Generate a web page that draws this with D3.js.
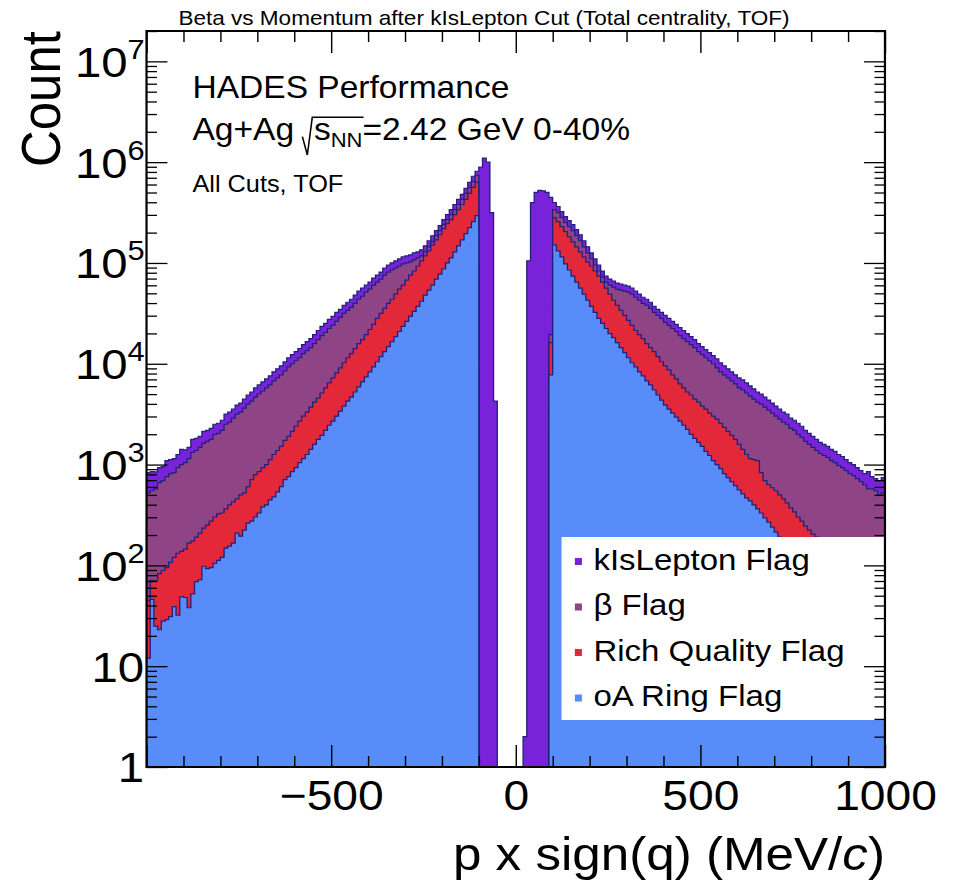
<!DOCTYPE html>
<html>
<head>
<meta charset="utf-8">
<script src="https://cdn.jsdelivr.net/npm/d3@7"></script>
<style>
  html, body { margin: 0; padding: 0; background: #fff; }
  svg { display: block; }
  text { font-family: "Liberation Sans", Arial, Helvetica, sans-serif; fill: #000; }
</style>
</head>
<body>
<svg id="chart" width="957" height="882"></svg>
<script>
// Histogram binning: 200 bins of 10 MeV/c from -1000 to 1000
const binLow = -1000;
const binWidth = 10;

// Counts per bin, left to right
const kIsLepton = [
  832, 851, 845, 933, 955, 1096, 1122, 1148, 1259, 1413,
  1400, 1479, 1778, 1820, 1905, 2138, 2188, 2291, 2512, 2570,
  2754, 3162, 3311, 3548, 3890, 4074, 4467, 4898, 5248, 5754,
  6166, 6607, 7079, 7586, 8318, 8913, 9550, 10470, 11480, 12300,
  13180, 14130, 15490, 16600, 17780, 19500, 21380, 23440, 25120, 27540,
  29510, 32360, 34670, 38020, 40740, 43650, 47860, 52480, 56230, 60260,
  64570, 70790, 75860, 81280, 89130, 95500, 100000, 104700, 109600, 114800,
  117500, 120200, 125900, 128800, 134900, 147900, 166000, 186200, 208900, 234400,
  269200, 302000, 338800, 380200, 426600, 478600, 549500, 631000, 724400, 812800,
  891300, 1096000, 1000000, 316200, 4266, 0, 0, 0, 0, 0,
  0, 0, 2, 104700, 398100, 501200, 524800, 520000, 501200, 446700,
  398100, 363100, 323600, 288400, 263000, 239900, 213800, 190500, 166000, 144500,
  125900, 109600, 95500, 83180, 74130, 69180, 66070, 63100, 61660, 60260,
  58880, 56230, 52480, 48980, 45710, 43650, 40740, 37150, 34670, 32360,
  30200, 28180, 26300, 24550, 22910, 21380, 19950, 18620, 17380, 15850,
  14790, 13800, 12880, 12020, 11220, 10230, 9550, 8913, 8318, 7762,
  7244, 6918, 6457, 6026, 5623, 5248, 5012, 4677, 4365, 4074,
  3802, 3548, 3311, 3162, 2884, 2754, 2570, 2399, 2188, 2042,
  1905, 1778, 1660, 1585, 1514, 1413, 1349, 1259, 1202, 1122,
  1047, 1000, 933, 871, 813, 851, 759, 724, 692, 741
];

const betaFlag = [
  525, 550, 575, 661, 692, 759, 813, 832, 933, 1000,
  1047, 1148, 1318, 1380, 1479, 1622, 1698, 1778, 1995, 2042,
  2188, 2512, 2630, 2884, 3162, 3311, 3631, 3981, 4266, 4677,
  5012, 5370, 5754, 6166, 6761, 7244, 7762, 8511, 9333, 10000,
  10720, 11480, 12590, 13490, 14450, 15850, 17380, 19050, 20420, 22390,
  23990, 26300, 28840, 31620, 33880, 36310, 39810, 43650, 46770, 51290,
  54950, 60260, 64570, 69180, 75860, 81280, 85110, 89130, 93330, 97720,
  100000, 102300, 107200, 112200, 117500, 128800, 144500, 162200, 186200, 208900,
  239900, 269200, 302000, 338800, 380200, 426600, 489800, 562300, 645700, 741300,
  0, 0, 0, 0, 0, 0, 0, 0, 0, 0,
  0, 0, 0, 0, 0, 0, 0, 0, 0, 19500,
  338800, 316200, 281800, 251200, 229100, 208900, 186200, 166000, 144500, 125900,
  109600, 95500, 83180, 72440, 64570, 60260, 57540, 54950, 53700, 52480,
  51290, 48980, 45710, 42660, 39810, 38020, 35480, 32360, 30200, 28180,
  25700, 23990, 22390, 20890, 19050, 17780, 16600, 15490, 14450, 13180,
  12300, 11480, 10720, 10000, 9120, 8318, 7762, 7244, 6761, 6310,
  5754, 5495, 5129, 4786, 4467, 4169, 3981, 3715, 3467, 3236,
  3020, 2818, 2630, 2512, 2291, 2188, 1995, 1862, 1698, 1585,
  1479, 1380, 1288, 1230, 1175, 1096, 1047, 977, 933, 871,
  813, 776, 724, 676, 631, 575, 575, 550, 501, 525
];

const richQuality = [
  45, 71, 70, 83, 89, 95, 107, 120, 132, 138,
  145, 166, 174, 191, 209, 234, 251, 275, 302, 324,
  331, 363, 398, 427, 457, 501, 525, 603, 708, 794,
  851, 933, 1000, 1122, 1259, 1380, 1514, 1738, 1905, 2138,
  2399, 2692, 3020, 3311, 3715, 4169, 4571, 5129, 5754, 6457,
  7244, 8128, 9120, 10230, 11480, 12590, 14130, 15850, 17380, 19500,
  21880, 24550, 28180, 31620, 35480, 39810, 43650, 48980, 54950, 60260,
  67610, 75860, 83180, 93330, 104700, 117500, 131800, 151400, 169800, 190500,
  218800, 245500, 269200, 302000, 338800, 380200, 426600, 489800, 562300, 631000,
  0, 0, 0, 0, 0, 0, 0, 0, 0, 0,
  0, 0, 0, 0, 0, 0, 0, 0, 0, 16220,
  281800, 257000, 229100, 204200, 182000, 162200, 144500, 128800, 114800, 102300,
  93330, 83180, 74130, 64570, 56230, 48980, 42660, 38020, 33880, 30200,
  26920, 23990, 21380, 19500, 17780, 15850, 14450, 13180, 11750, 10470,
  9550, 8710, 7762, 7079, 6310, 5754, 5248, 4898, 4467, 4169,
  3802, 3548, 3236, 3020, 2818, 2570, 2344, 2138, 1950, 1778,
  1585, 1413, 1259, 1148, 1122, 1096, 832, 692, 631, 589,
  550, 501, 457, 417, 372, 339, 302, 275, 245, 224,
  204, 191, 166, 148, 132, 120, 107, 95, 87, 78,
  71, 63, 58, 51, 47, 42, 38, 34, 31, 28
];

const oaRing = [
  12, 46, 25, 23, 28, 29, 31, 39, 32, 49,
  48, 38, 52, 69, 72, 98, 93, 95, 105, 112,
  120, 148, 155, 166, 209, 195, 224, 263, 275, 302,
  331, 380, 398, 447, 479, 537, 603, 708, 759, 851,
  933, 1047, 1148, 1259, 1413, 1585, 1778, 1950, 2188, 2455,
  2692, 3020, 3388, 3802, 4266, 4677, 5248, 5888, 6607, 7413,
  8318, 9333, 10470, 11750, 13180, 14790, 16600, 18620, 20890, 23440,
  26300, 29510, 33110, 37150, 41690, 47860, 53700, 60260, 69180, 77620,
  87100, 100000, 112200, 128800, 147900, 169800, 195000, 223900, 257000, 295100,
  0, 0, 0, 0, 0, 0, 0, 0, 0, 0,
  0, 0, 0, 0, 0, 0, 0, 0, 0, 7762,
  151400, 131800, 114800, 97720, 85110, 74130, 64570, 56230, 48980, 42660,
  37150, 32360, 28180, 25120, 22390, 19950, 18200, 16220, 14450, 12880,
  11480, 10230, 9333, 8318, 7586, 6761, 6166, 5495, 4898, 4365,
  3890, 3548, 3236, 2951, 2692, 2455, 2239, 1995, 1820, 1660,
  1514, 1349, 1230, 1096, 1000, 912, 813, 741, 676, 617,
  562, 513, 468, 437, 398, 363, 331, 295, 269, 240,
  214, 191, 174, 155, 141, 126, 115, 102, 93, 83,
  76, 68, 62, 55, 50, 45, 41, 36, 33, 30,
  27, 24, 22, 19, 18, 16, 14, 13, 12, 10
];

const seriesNames = ["kIsLepton Flag", "\u03B2 Flag", "Rich Quality Flag", "oA Ring Flag"];
const seriesColors = ["#7822da", "#8f4486", "#e3283a", "#588cf8"];
const seriesValues = [kIsLepton, betaFlag, richQuality, oaRing];

const xMajorTicks = [-1000, -500, 0, 500, 1000];
const xLabelled = [-500, 0, 500, 1000];
const yDecades = [1, 10, 100, 1e3, 1e4, 1e5, 1e6, 1e7];

// ---- drawing ----
const VW = 870, VH = 882;   // drawing units; the canvas is stretched to 957 wide
const svg = d3.select("#chart")
  .attr("viewBox", `0 0 ${VW} ${VH}`)
  .attr("preserveAspectRatio", "none");

svg.append("rect").attr("width", VW).attr("height", VH).attr("fill", "#fff");

const frame = { left: 133.2, right: 804.5, top: 31, bottom: 767 };
const x = d3.scaleLinear().domain([-1000, 1000]).range([frame.left, frame.right]);
const y = d3.scaleLog().domain([1, 2e7]).range([frame.bottom, frame.top]);

svg.append("defs").append("clipPath").attr("id", "plotClip")
  .append("rect")
  .attr("x", frame.left).attr("y", frame.top)
  .attr("width", frame.right - frame.left).attr("height", frame.bottom - frame.top);

// filled step outline of one histogram (empty bins leave gaps)
function histPath(vals) {
  const p = d3.path();
  let open = false, lastX = 0;
  vals.forEach((v, i) => {
    const x0 = x(binLow + i * binWidth), x1 = x(binLow + (i + 1) * binWidth);
    if (v > 0) {
      if (!open) { p.moveTo(x0, y(1)); open = true; }
      p.lineTo(x0, y(v));
      p.lineTo(x1, y(v));
      lastX = x1;
    } else if (open) {
      p.lineTo(lastX, y(1)); p.closePath(); open = false;
    }
  });
  if (open) { p.lineTo(lastX, y(1)); p.closePath(); }
  return p.toString();
}

const plot = svg.append("g").attr("clip-path", "url(#plotClip)");
seriesValues.forEach((vals, k) => {
  plot.append("path")
    .attr("d", histPath(vals))
    .attr("fill", seriesColors[k])
    .attr("stroke", "#22207a")
    .attr("stroke-width", 1.2)
    .attr("stroke-linejoin", "miter");
});

// ---- legend ----
const legend = svg.append("g");
legend.append("rect")
  .attr("x", 510.5).attr("y", 537)
  .attr("width", frame.right - 510.5).attr("height", 183)
  .attr("fill", "#fff");
seriesNames.forEach((name, k) => {
  const base = 570 + k * 45.5;
  legend.append("rect")
    .attr("x", 522.6).attr("y", base - 12)
    .attr("width", 6.4).attr("height", 7)
    .attr("fill", seriesColors[k]);
  legend.append("text")
    .attr("x", 539.5).attr("y", base)
    .style("font-size", "30px")
    .text(name);
});

// ---- axes (ticks point inward on all four sides) ----
function styleAxis(g) {
  g.select(".domain").remove();
  g.selectAll(".tick line").attr("stroke", "#000").attr("stroke-width", 1.3);
}
const xMinor = d3.range(-1000, 1001, 100).filter(v => !xMajorTicks.includes(v));
const fmtX = d => xLabelled.includes(d) ? (d < 0 ? "\u2212" + Math.abs(d) : String(d)) : "";

svg.append("g").attr("transform", `translate(0,${frame.bottom})`)
  .call(d3.axisBottom(x).tickValues(xMajorTicks).tickSize(-22).tickPadding(13).tickFormat(fmtX))
  .call(styleAxis)
  .call(g => g.selectAll("text")
    .attr("font-family", '"Liberation Sans", Arial, sans-serif')
    .style("font-size", "42px").attr("fill", "#000"));
svg.append("g").attr("transform", `translate(0,${frame.bottom})`)
  .call(d3.axisBottom(x).tickValues(xMinor).tickSize(-11).tickFormat(""))
  .call(styleAxis);
svg.append("g").attr("transform", `translate(0,${frame.top})`)
  .call(d3.axisTop(x).tickValues(xMajorTicks).tickSize(-22).tickFormat(""))
  .call(styleAxis);
svg.append("g").attr("transform", `translate(0,${frame.top})`)
  .call(d3.axisTop(x).tickValues(xMinor).tickSize(-11).tickFormat(""))
  .call(styleAxis);

const yMinor = [];
yDecades.forEach(d => { for (let m = 2; m <= 9; m++) if (d * m <= 2e7) yMinor.push(d * m); });

svg.append("g").attr("transform", `translate(${frame.left},0)`)
  .call(d3.axisLeft(y).tickValues(yDecades).tickSize(-19).tickFormat(""))
  .call(styleAxis);
svg.append("g").attr("transform", `translate(${frame.left},0)`)
  .call(d3.axisLeft(y).tickValues(yMinor).tickSize(-9.5).tickFormat(""))
  .call(styleAxis);
svg.append("g").attr("transform", `translate(${frame.right},0)`)
  .call(d3.axisRight(y).tickValues(yDecades).tickSize(-19).tickFormat(""))
  .call(styleAxis);
svg.append("g").attr("transform", `translate(${frame.right},0)`)
  .call(d3.axisRight(y).tickValues(yMinor).tickSize(-9.5).tickFormat(""))
  .call(styleAxis);

// y labels: 1, 10, then 10^n
const yLabFont = 43, yExpFont = 28;
yDecades.forEach(d => {
  const n = Math.round(Math.log10(d));
  const t = svg.append("text")
    .attr("y", y(d) + 0.358 * yLabFont)
    .attr("text-anchor", "end")
    .style("font-size", yLabFont + "px");
  if (n <= 1) {
    t.attr("x", 131).text(String(d));
  } else {
    t.attr("x", 131.5);
    t.append("tspan").text("10");
    t.append("tspan").attr("dy", -18).style("font-size", yExpFont + "px").text(String(n));
  }
});

// frame
svg.append("rect")
  .attr("x", frame.left).attr("y", frame.top)
  .attr("width", frame.right - frame.left).attr("height", frame.bottom - frame.top)
  .attr("fill", "none").attr("stroke", "#000").attr("stroke-width", 2);

// ---- titles ----
svg.append("text")
  .attr("x", 440).attr("y", 25)
  .attr("text-anchor", "middle")
  .style("font-size", "20.5px")
  .text("Beta vs Momentum after kIsLepton Cut (Total centrality, TOF)");

svg.append("text")
  .attr("transform", `translate(54.5,${frame.top}) rotate(-90)`)
  .attr("text-anchor", "end")
  .style("font-size", "51px")
  .text("Count");

const xt = svg.append("text")
  .attr("x", frame.right).attr("y", 870)
  .attr("text-anchor", "end")
  .style("font-size", "46.5px");
xt.append("tspan").text("p x sign(q) (MeV/");
xt.append("tspan").style("font-style", "italic").text("c");
xt.append("tspan").text(")");

// ---- annotation ----
const annX = 175;
svg.append("text").attr("x", annX).attr("y", 98)
  .style("font-size", "30.5px").text("HADES Performance");

const line2Base = 140;
const agText = svg.append("text").attr("x", annX).attr("y", line2Base)
  .style("font-size", "30.5px").text("Ag+Ag");
const agW = agText.node().getComputedTextLength();
const rx = annX + agW + 7.5;
const rest = svg.append("text").attr("x", rx + 10.5).attr("y", line2Base)
  .style("font-size", "30.5px");
rest.append("tspan").text("s");
rest.append("tspan").attr("dy", 6.7).style("font-size", "20px").text("NN");
rest.append("tspan").attr("dy", -6.7).text("=2.42 GeV 0-40%");
// overline spans the radicand (s + NN)
const radicandEnd = rx + 10.5 + rest.node().getSubStringLength(0, 3) + 1;
svg.append("path")
  .attr("d", `M${rx},${line2Base - 3.3} L${rx + 4.5},${line2Base + 15} L${rx + 9},${line2Base - 22.7} L${radicandEnd},${line2Base - 22.7}`)
  .attr("fill", "none").attr("stroke", "#000").attr("stroke-width", 1.4);

svg.append("text").attr("x", annX).attr("y", 192)
  .style("font-size", "23px").text("All Cuts, TOF");
</script>
</body>
</html>
